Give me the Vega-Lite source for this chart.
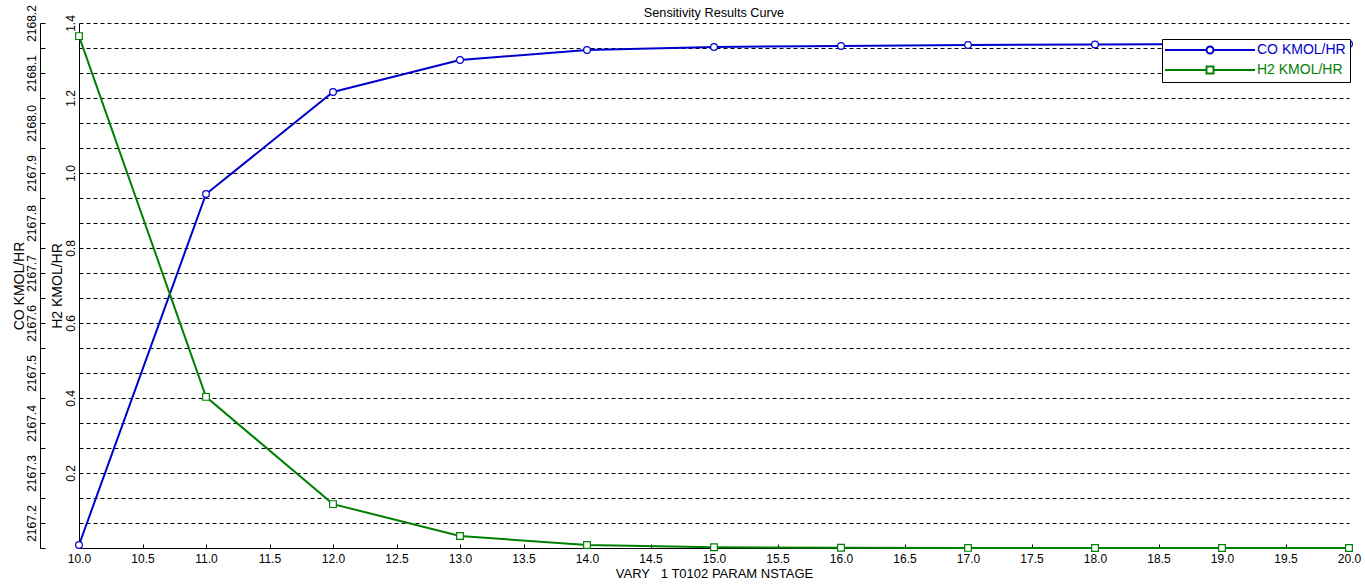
{
  "$schema": "https://vega.github.io/schema/vega-lite/v6.json",
  "width": 1270,
  "height": 525,
  "autosize": {"type": "none"},
  "padding": {"left": 79, "top": 23, "right": 16, "bottom": 39},
  "background": "white",
  "title": {"text": "Sensitivity Results Curve", "fontSize": 12.7, "font": "Liberation Sans", "fontWeight": "normal", "color": "black", "anchor": "middle", "frame": "group", "offset": 0, "dy": 15},
  "config": {
    "font": "Liberation Sans",
    "view": {"stroke": null},
    "axis": {"labelFont": "Liberation Sans", "labelFontSize": 12, "labelColor": "black", "titleFont": "Liberation Sans", "titleFontSize": 13.5, "titleFontWeight": "normal", "titleColor": "black", "domainColor": "black", "tickColor": "black", "domainWidth": 1, "tickWidth": 1}
  },
  "data": {"values": [
    {"NSTAGE": 10, "CO": 2167.156, "H2": 1.365},
    {"NSTAGE": 11, "CO": 2167.858, "H2": 0.403},
    {"NSTAGE": 12, "CO": 2168.062, "H2": 0.117},
    {"NSTAGE": 13, "CO": 2168.126, "H2": 0.032},
    {"NSTAGE": 14, "CO": 2168.146, "H2": 0.008},
    {"NSTAGE": 15, "CO": 2168.152, "H2": 0.002},
    {"NSTAGE": 16, "CO": 2168.154, "H2": 0.0006},
    {"NSTAGE": 17, "CO": 2168.156, "H2": 0.0003},
    {"NSTAGE": 18, "CO": 2168.157, "H2": 0.0002},
    {"NSTAGE": 19, "CO": 2168.158, "H2": 0.0001},
    {"NSTAGE": 20, "CO": 2168.158, "H2": 0.0001}
  ]},
  "layer": [
    {
      "mark": {"type": "line", "strokeWidth": 2, "point": {"shape": "circle", "filled": false, "fill": "white", "size": 45, "strokeWidth": 1.2, "opacity": 1}},
      "encoding": {
        "x": {"field": "NSTAGE", "type": "quantitative", "scale": {"domain": [10, 20], "nice": false, "zero": false},
          "axis": {"title": "VARY\u00a0\u00a0\u00a01 T0102 PARAM NSTAGE", "titleFontSize": 13, "values": [10, 10.5, 11, 11.5, 12, 12.5, 13, 13.5, 14, 14.5, 15, 15.5, 16, 16.5, 17, 17.5, 18, 18.5, 19, 19.5, 20], "format": ".1f", "tickSize": -4, "labelPadding": 9, "grid": false, "labelOverlap": false, "labelFlush": false, "titlePadding": 3}},
        "y": {"field": "CO", "type": "quantitative", "scale": {"domain": [2167.15, 2168.2], "nice": false, "zero": false},
          "axis": {"title": "CO KMOL/HR", "titleFontSize": 14, "orient": "left", "offset": 39, "values": [2167.15, 2167.2, 2167.25, 2167.3, 2167.35, 2167.4, 2167.45, 2167.5, 2167.55, 2167.6, 2167.65, 2167.7, 2167.75, 2167.8, 2167.85, 2167.9, 2167.95, 2168.0, 2168.05, 2168.1, 2168.15, 2168.2],
            "labelExpr": "abs(datum.value*10 - round(datum.value*10)) < 0.01 ? format(datum.value, '.1f') : ''",
            "labelAngle": 270, "labelAlign": "center", "labelBaseline": "bottom", "tickSize": -5, "labelPadding": 7, "grid": true, "gridDash": [4, 3], "gridColor": "black", "gridOpacity": 1, "gridWidth": 1, "labelOverlap": false, "labelFlush": false, "titlePadding": -1}},
        "color": {"datum": "CO KMOL/HR", "type": "nominal", "scale": {"domain": ["CO KMOL/HR", "H2 KMOL/HR"], "range": ["#0000CC", "#008000"]},
          "legend": {"orient": "none", "legendX": 1083, "legendY": 16, "title": null, "fillColor": "white", "strokeColor": "black", "padding": 4, "cornerRadius": 0,
            "symbolType": "M-9,0H-0.7M0.7,0H9M-0.7,0A0.7,0.7,0,1,1,0.7,0A0.7,0.7,0,1,1,-0.7,0Z", "symbolSize": 100, "symbolStrokeWidth": 2, "symbolFillColor": "white", "symbolOffset": 37, "labelOffset": 40, "labelFontSize": 14, "labelFont": "Liberation Sans", "rowPadding": 4, "labelLimit": 200,
            "encode": {
              "symbols": {"update": {"shape": {"signal": "datum.value === 'CO KMOL/HR' ? 'M-9,0H-0.7M0.7,0H9M-0.7,0A0.7,0.7,0,1,1,0.7,0A0.7,0.7,0,1,1,-0.7,0Z' : 'M-9,0H-0.7M0.7,0H9M-0.7,-0.7H0.7V0.7H-0.7Z'"}, "fill": {"value": "white"}}},
              "labels": {"update": {"fill": {"signal": "datum.value === 'CO KMOL/HR' ? '#0000CC' : '#008000'"}}}
            }}}
      }
    },
    {
      "mark": {"type": "line", "strokeWidth": 2, "point": {"shape": "square", "filled": false, "fill": "white", "size": 45, "strokeWidth": 1.2, "opacity": 1}},
      "encoding": {
        "x": {"field": "NSTAGE", "type": "quantitative"},
        "y": {"field": "H2", "type": "quantitative", "scale": {"domain": [0, 1.4], "nice": false, "zero": false},
          "axis": {"title": "H2 KMOL/HR", "titleFontSize": 14, "orient": "left", "offset": 0, "values": [0.2, 0.4, 0.6, 0.8, 1.0, 1.2, 1.4], "format": ".1f", "labelAngle": 270, "labelAlign": "center", "labelBaseline": "bottom", "ticks": false, "labelPadding": 2, "grid": false, "labelOverlap": false, "labelFlush": false, "titlePadding": 0}},
        "color": {"datum": "H2 KMOL/HR", "type": "nominal",
          "legend": {"orient": "none", "legendX": 1083, "legendY": 16, "title": null, "fillColor": "white", "strokeColor": "black", "padding": 4, "cornerRadius": 0,
            "symbolType": "M-9,0H-0.7M0.7,0H9M-0.7,0A0.7,0.7,0,1,1,0.7,0A0.7,0.7,0,1,1,-0.7,0Z", "symbolSize": 100, "symbolStrokeWidth": 2, "symbolFillColor": "white", "symbolOffset": 37, "labelOffset": 40, "labelFontSize": 14, "labelFont": "Liberation Sans", "rowPadding": 4, "labelLimit": 200,
            "encode": {
              "symbols": {"update": {"shape": {"signal": "datum.value === 'CO KMOL/HR' ? 'M-9,0H-0.7M0.7,0H9M-0.7,0A0.7,0.7,0,1,1,0.7,0A0.7,0.7,0,1,1,-0.7,0Z' : 'M-9,0H-0.7M0.7,0H9M-0.7,-0.7H0.7V0.7H-0.7Z'"}, "fill": {"value": "white"}}},
              "labels": {"update": {"fill": {"signal": "datum.value === 'CO KMOL/HR' ? '#0000CC' : '#008000'"}}}
            }}}
      }
    }
  ],
  "resolve": {"scale": {"y": "independent"}}
}
